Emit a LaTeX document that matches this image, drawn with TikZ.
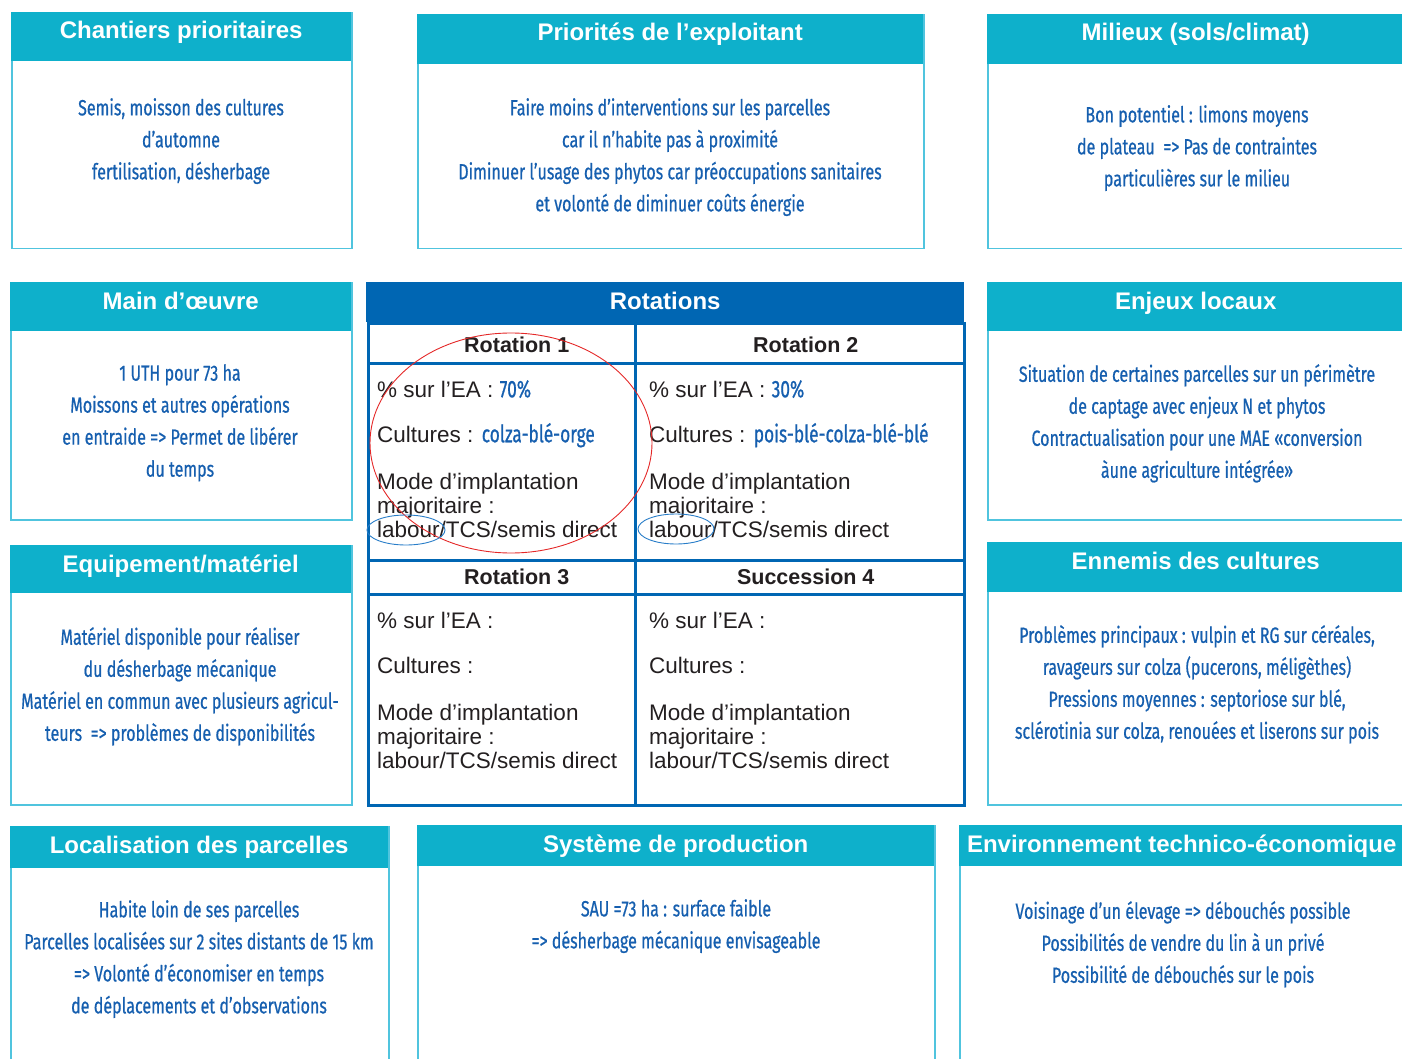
\documentclass[tikz,border=0pt]{standalone}
\usepackage{fontspec}
\setmainfont{Liberation Sans}
\newfontfamily\handfont[FakeStretch=0.73, FakeBold=0.6]{Fira Sans}
\newfontfamily\handcellfont[FakeStretch=0.72, FakeBold=0.8]{Fira Sans}
\usetikzlibrary{positioning}
\definecolor{headteal}{RGB}{14,176,203}
\definecolor{boxline}{RGB}{80,196,222}
\definecolor{rotblue}{RGB}{0,102,179}
\definecolor{handblue}{RGB}{22,95,175}
\definecolor{tabletext}{RGB}{35,31,32}
\definecolor{markred}{RGB}{228,40,40}
\definecolor{markblue}{RGB}{40,125,200}
\newcommand{\handcell}{\handcellfont\fontsize{24}{24}\selectfont\color{handblue}}
\tikzset{
	body/.style={
		rectangle,
		anchor=north west,
		inner sep=0pt,
		draw=boxline,
		line width=1.5pt
	},
	head/.style={
		rectangle,
		anchor=north west,
		inner sep=0pt,
		fill=headteal
	},
	rothead/.style={
		rectangle,
		anchor=north west,
		inner sep=0pt,
		fill=rotblue
	},
	cell/.style={
		rectangle,
		anchor=north west,
		inner sep=0pt,
		draw=rotblue,
		line width=2.5pt
	},
	title/.style={
		anchor=base,
		inner sep=0pt,
		text=white,
		font=\bfseries\fontsize{24}{28}\selectfont
	},
	cellhead/.style={
		anchor=base,
		inner sep=0pt,
		text=tabletext,
		font=\bfseries\fontsize{21.5}{26}\selectfont
	},
	celltext/.style={
		anchor=north west,
		inner sep=0pt,
		align=left,
		text=tabletext,
		font=\fontsize{22.5}{24}\selectfont
	},
	hand/.style={
		anchor=north,
		inner sep=0pt,
		align=center,
		text=handblue,
		font=\handfont\fontsize{22}{32}\selectfont
	},
	redmark/.style={draw=markred, line width=0.9pt},
	bluemark/.style={draw=markblue, line width=0.9pt}
}

\begin{document}
\begin{tikzpicture}[x=1pt, y=-1pt]
	\useasboundingbox (0,0) rectangle (1402,1059);
	\clip (0,0) rectangle (1402,1059);

	% Top row
	\node (chantiers) [body, minimum width=340pt, minimum height=236pt] at (11,12) {};
	\node (chantiershead) [head, minimum width=340pt, minimum height=49pt] at (11,12) {};
	\node (chantierstitle) [title] at ([yshift=-27pt]chantiershead.north) {Chantiers prioritaires};
	\node (chantierstext) [hand] at (181,98) {Semis, moisson des cultures\\d’automne\\fertilisation, désherbage};

	\node (priorites) [body, minimum width=506pt, minimum height=234pt] at (417,14) {};
	\node (prioriteshead) [head, minimum width=506pt, minimum height=50pt] at (417,14) {};
	\node (prioritestitle) [title] at ([yshift=-27pt]prioriteshead.north) {Priorités de l’exploitant};
	\node (prioritestext) [hand] at (670,98) {Faire moins d’interventions sur les parcelles\\car il n’habite pas à proximité\\Diminuer l’usage des phytos car préoccupations sanitaires\\et volonté de diminuer coûts énergie};

	\node (milieux) [body, minimum width=417pt, minimum height=234pt] at (987,14) {};
	\node (milieuxhead) [head, minimum width=417pt, minimum height=50pt] at (987,14) {};
	\node (milieuxtitle) [title] at ([yshift=-27pt]milieuxhead.north) {Milieux (sols/climat)};
	\node (milieuxtext) [hand] at (1197,105) {Bon potentiel : limons moyens\\de plateau~~=> Pas de contraintes\\particulières sur le milieu};

	% Middle rows, left and right
	\node (maindoeuvre) [body, minimum width=341pt, minimum height=237pt] at (10,282) {};
	\node (maindoeuvrehead) [head, minimum width=341pt, minimum height=49pt] at (10,282) {};
	\node (maindoeuvretitle) [title] at ([yshift=-27pt]maindoeuvrehead.north) {Main d’œuvre};
	\node (maindoeuvretext) [hand] at (180,364) {1 UTH pour 73 ha\\Moissons et autres opérations\\en entraide => Permet de libérer\\du temps};

	\node (enjeux) [body, minimum width=417pt, minimum height=237pt] at (987,282) {};
	\node (enjeuxhead) [head, minimum width=417pt, minimum height=49pt] at (987,282) {};
	\node (enjeuxtitle) [title] at ([yshift=-27pt]enjeuxhead.north) {Enjeux locaux};
	\node (enjeuxtext) [hand] at (1197,364) {Situation de certaines parcelles sur un périmètre\\de captage avec enjeux N et phytos\\Contractualisation pour une MAE «conversion\\àune agriculture intégrée»};

	\node (equipement) [body, minimum width=341pt, minimum height=259pt] at (10,545) {};
	\node (equipementhead) [head, minimum width=341pt, minimum height=48pt] at (10,545) {};
	\node (equipementtitle) [title] at ([yshift=-27pt]equipementhead.north) {Equipement/matériel};
	\node (equipementtext) [hand] at (180,627) {Matériel disponible pour réaliser\\du désherbage mécanique\\Matériel en commun avec plusieurs agricul-\\teurs~~=> problèmes de disponibilités};

	\node (ennemis) [body, minimum width=417pt, minimum height=262pt] at (987,542) {};
	\node (ennemishead) [head, minimum width=417pt, minimum height=50pt] at (987,542) {};
	\node (ennemistitle) [title] at ([yshift=-27pt]ennemishead.north) {Ennemis des cultures};
	\node (ennemistext) [hand] at (1197,625) {Problèmes principaux : vulpin et RG sur céréales,\\ravageurs sur colza (pucerons, méligèthes)\\Pressions moyennes : septoriose sur blé,\\sclérotinia sur colza, renouées et liserons sur pois};

	% Rotations table
	\node (rotations) [rothead, minimum width=598pt, minimum height=40pt] at (366,282) {};
	\node (rotationstitle) [title] at ([yshift=-27pt]rotations.north) {Rotations};
	\node (rot1head) [cell, minimum width=267pt, minimum height=40pt] at (367,322) {};
	\node (rot2head) [cell, minimum width=329pt, minimum height=40pt] at (634,322) {};
	\node (rot1) [cell, minimum width=267pt, minimum height=197pt] at (367,362) {};
	\node (rot2) [cell, minimum width=329pt, minimum height=197pt] at (634,362) {};
	\node (rot3head) [cell, minimum width=267pt, minimum height=34pt] at (367,559) {};
	\node (succ4head) [cell, minimum width=329pt, minimum height=34pt] at (634,559) {};
	\node (rot3) [cell, minimum width=267pt, minimum height=211pt] at (367,593) {};
	\node (succ4) [cell, minimum width=329pt, minimum height=211pt] at (634,593) {};

	\node (rot1label) [cellhead] at ([xshift=15pt, yshift=-30pt]rot1head.north) {Rotation 1};
	\node (rot2label) [cellhead] at ([xshift=6pt, yshift=-30pt]rot2head.north) {Rotation 2};
	\node (rot3label) [cellhead] at ([xshift=15pt, yshift=-25pt]rot3head.north) {Rotation 3};
	\node (succ4label) [cellhead] at ([xshift=6pt, yshift=-25pt]succ4head.north) {Succession 4};

	\node (rot1text) [celltext] at (377,380) {\% sur l’EA : {\handcell 70\%}\\[21pt]Cultures : {\handcell colza-blé-orge}\\[23pt]Mode d’implantation\\majoritaire :\\labour/TCS/semis direct};
	\node (rot2text) [celltext] at (649,380) {\% sur l’EA : {\handcell 30\%}\\[21pt]Cultures : {\handcell pois-blé-colza-blé-blé}\\[23pt]Mode d’implantation\\majoritaire :\\labour/TCS/semis direct};
	\node (rot3text) [celltext] at (377,612) {\% sur l’EA :\\[21pt]Cultures :\\[23pt]Mode d’implantation\\majoritaire :\\labour/TCS/semis direct};
	\node (succ4text) [celltext] at (649,612) {\% sur l’EA :\\[21pt]Cultures :\\[23pt]Mode d’implantation\\majoritaire :\\labour/TCS/semis direct};

	% Marks drawn over rotation 1 and 2
	\draw [redmark] (511,443) ellipse [x radius=141pt, y radius=110pt];
	\draw [bluemark] (406,530) ellipse [x radius=39pt, y radius=15pt];
	\draw [bluemark] (676,529) ellipse [x radius=38pt, y radius=15pt];

	% Bottom row
	\node (localisation) [body, minimum width=378pt, minimum height=250pt] at (10,826) {};
	\node (localisationhead) [head, minimum width=378pt, minimum height=42pt] at (10,826) {};
	\node (localisationtitle) [title] at ([yshift=-27pt]localisationhead.north) {Localisation des parcelles};
	\node (localisationtext) [hand] at (199,900) {Habite loin de ses parcelles\\Parcelles localisées sur 2 sites distants de 15 km\\=> Volonté d’économiser en temps\\de déplacements et d’observations};

	\node (systeme) [body, minimum width=517pt, minimum height=250pt] at (417,825) {};
	\node (systemehead) [head, minimum width=517pt, minimum height=41pt] at (417,825) {};
	\node (systemetitle) [title] at ([yshift=-27pt]systemehead.north) {Système de production};
	\node (systemetext) [hand] at (676,899) {SAU =73 ha : surface faible\\=> désherbage mécanique envisageable};

	\node (environnement) [body, minimum width=445pt, minimum height=250pt] at (959,825) {};
	\node (environnementhead) [head, minimum width=445pt, minimum height=41pt] at (959,825) {};
	\node (environnementtitle) [title] at ([yshift=-27pt]environnementhead.north) {Environnement technico-économique};
	\node (environnementtext) [hand] at (1183,901) {Voisinage d’un élevage => débouchés possible\\Possibilités de vendre du lin à un privé\\Possibilité de débouchés sur le pois};
\end{tikzpicture}
\end{document}
